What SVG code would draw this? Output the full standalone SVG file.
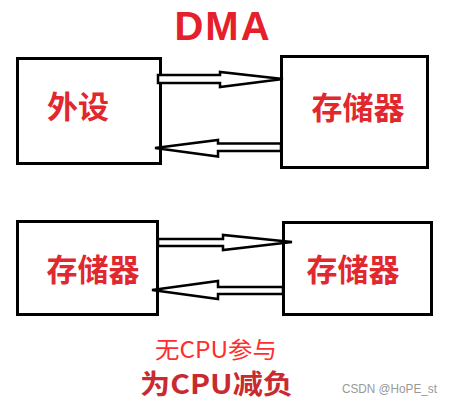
<svg xmlns="http://www.w3.org/2000/svg" width="453" height="404" viewBox="0 0 453 404">
<style>
.box{fill:#fff;stroke:#000;stroke-width:3}
.arr{fill:#fff;stroke:#000;stroke-width:2.5;stroke-linejoin:miter}
.lbl{font-family:"Noto Sans CJK SC","Noto Sans",sans-serif;font-weight:bold;font-size:31px;fill:#e0282e;text-anchor:middle}
</style>
<rect width="453" height="404" fill="#fff"/>
<text x="223" y="40" font-family="'Liberation Sans',Arial,sans-serif" font-weight="bold" font-size="40" fill="#e5202a" text-anchor="middle" letter-spacing="2">DMA</text>
<g id="n1"><rect class="box" x="17.5" y="58.5" width="143" height="105"/><text class="lbl" x="78" y="118">外设</text></g>
<g id="n2"><rect class="box" x="281.5" y="56.5" width="146" height="111"/><text class="lbl" x="358" y="119">存储器</text></g>
<g id="n3"><rect class="box" x="17.5" y="221.5" width="140" height="93"/><text class="lbl" x="93" y="281">存储器</text></g>
<g id="n4"><rect class="box" x="283.5" y="222.5" width="148" height="92"/><text class="lbl" x="353" y="281">存储器</text></g>
<g id="edges">
<path class="arr" d="M158,75 H220 V72 L283,79 L220,87 V83 H158 Z"/>
<path class="arr" d="M281,143.5 H218 V140 L155,148 L218,156.5 V151 H281 Z"/>
<path class="arr" d="M158,239 H223 V235 L292,242 L223,250 V246 H158 Z"/>
<path class="arr" d="M283,287 H218 V281 L152,290 L218,299 V294 H283 Z"/>
</g>
<text x="216" y="358" font-family="'Noto Sans CJK SC','Noto Sans',sans-serif" font-size="23" fill="#ff2d2d" text-anchor="middle" textLength="122" lengthAdjust="spacingAndGlyphs">无CPU参与</text>
<text x="216.5" y="394" font-family="'Noto Sans CJK SC','Noto Sans',sans-serif" font-weight="bold" font-size="27" fill="#c92a30" text-anchor="middle" textLength="153" lengthAdjust="spacingAndGlyphs">为CPU减负</text>
<text x="342" y="392.5" font-family="'Liberation Sans',Arial,sans-serif" font-size="13" fill="#999" textLength="95" lengthAdjust="spacingAndGlyphs">CSDN @HoPE_st</text>
</svg>
